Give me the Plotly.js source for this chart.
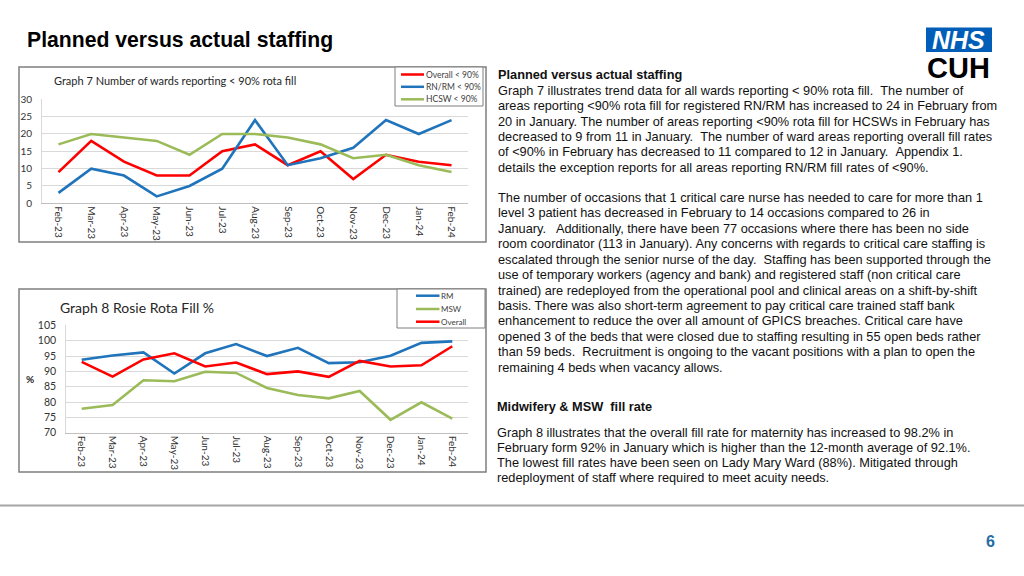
<!DOCTYPE html>
<html><head><meta charset="utf-8">
<script src="https://cdn.plot.ly/plotly-3.0.1.min.js"></script>
<style>html,body{margin:0;padding:0;background:#fff;overflow:hidden;} #chart{width:1024px;height:576px;}</style>
</head><body><div id="chart"></div>
<script>
// ---- data ----
const months = ['Feb-23','Mar-23','Apr-23','May-23','Jun-23','Jul-23','Aug-23','Sep-23','Oct-23','Nov-23','Dec-23','Jan-24','Feb-24'];
const overall7 = [9,18,12,8,8,15,17,11,15,7,14,12,11];
const rnrm7 = [3,10,8,2,5,10,24,11,13,16,24,20,24];
const hcsw7 = [17,20,19,18,14,20,20,19,17,13,14,11,9];
const rm8 = [93.8,95.2,96.2,89.3,95.9,98.9,95.0,97.7,92.7,93.0,95.1,99.3,99.8];
const msw8 = [77.8,79.0,87.1,86.8,89.9,89.5,84.6,82.3,81.2,83.6,74.2,79.9,74.6];
const overall8 = [93.1,88.3,93.9,95.9,91.6,92.9,89.1,90.0,88.2,93.4,91.6,92.0,98.2];
const yTicks7 = [0,5,10,15,20,25,30];
const yTicks8 = [70,75,80,85,90,95,100,105];
const legend7 = ['Overall &lt; 90%','RN/RM &lt; 90%','HCSW &lt; 90%'];
const legend8 = ['RM','MSW','Overall'];

const RED='#ff0000', BLUE='#1f74bb', GREEN='#9bbb59';

// ---- text ----
const para1 = [
 '<b>Planned versus actual staffing</b>',
 'Graph 7 illustrates trend data for all wards reporting &lt; 90% rota fill.  The number of',
 'areas reporting &lt;90% rota fill for registered RN/RM has increased to 24 in February from',
 '20 in January. The number of areas reporting &lt;90% rota fill for HCSWs in February has',
 'decreased to 9 from 11 in January.  The number of ward areas reporting overall fill rates',
 'of &lt;90% in February has decreased to 11 compared to 12 in January.  Appendix 1.',
 'details the exception reports for all areas reporting RN/RM fill rates of &lt;90%.'
];
const para2 = [
 'The number of occasions that 1 critical care nurse has needed to care for more than 1',
 'level 3 patient has decreased in February to 14 occasions compared to 26 in',
 'January.   Additionally, there have been 77 occasions where there has been no side',
 'room coordinator (113 in January). Any concerns with regards to critical care staffing is',
 'escalated through the senior nurse of the day.  Staffing has been supported through the',
 'use of temporary workers (agency and bank) and registered staff (non critical care',
 'trained) are redeployed from the operational pool and clinical areas on a shift-by-shift',
 'basis. There was also short-term agreement to pay critical care trained staff bank',
 'enhancement to reduce the over all amount of GPICS breaches. Critical care have',
 'opened 3 of the beds that were closed due to staffing resulting in 55 open beds rather',
 'than 59 beds.  Recruitment is ongoing to the vacant positions with a plan to open the',
 'remaining 4 beds when vacancy allows.'
];
const head3 = '<b>Midwifery &amp; MSW  fill rate</b>';
const para3 = [
 'Graph 8 illustrates that the overall fill rate for maternity has increased to 98.2% in',
 'February form 92% in January which is higher than the 12-month average of 92.1%.',
 'The lowest fill rates have been seen on Lady Mary Ward (88%). Mitigated through',
 'redeployment of staff where required to meet acuity needs.'
];

// ---- layout helpers ----
const W=1024,H=576;
const px = x => x/W, py = y => 1 - y/H;
const nb = s => s.replace(/  /g,' \u00a0');
const BODY = {family:'Liberation Sans, Arial, sans-serif', size:12.75, color:'#111'};
const CF = 'Lato, Calibri, sans-serif';

const annotations = [];
function txt(text,x,y,font,xanchor){
  annotations.push({xref:'paper',yref:'paper',x:px(x),y:py(y),text:nb(text),showarrow:false,
    xanchor:xanchor||'left',yanchor:'middle',align:'left',font:font,borderpad:0});
}
para1.forEach((t,i)=>txt(t,496.5,74.7+i*15.45,BODY));
para2.forEach((t,i)=>txt(t,496.5,197.3+i*15.45,BODY));
txt(head3,495.5,406.7,BODY);
para3.forEach((t,i)=>txt(t,495.5,432.7+i*15.0,BODY));

// slide title
txt('<b>Planned versus actual staffing</b>',26,40,{family:'Liberation Sans, Arial, sans-serif',size:21.2,color:'#000'});
// chart titles
txt('Graph 7 Number of wards reporting &lt; 90% rota fill',52.5,80.7,{family:CF,size:11,color:'#262626'});
txt('Graph 8 Rosie Rota Fill %',58.5,307,{family:CF,size:14,color:'#262626'});
txt('<b>%</b>',30,379,{family:CF,size:10,color:'#262626'},'center');
// page number
txt('<b>6</b>',990,541,{family:'Liberation Sans, Arial, sans-serif',size:16,color:'#1f6ea8'},'center');
// logo texts
txt('<b><i>NHS</i></b>',958.5,40,{family:'Liberation Sans, Arial, sans-serif',size:25,color:'#ffffff'},'center');
txt('<b>CUH</b>',958.5,68,{family:'Liberation Sans, Arial, sans-serif',size:29,color:'#000000'},'center');

const shapes = [
  {type:'rect',xref:'paper',yref:'paper',x0:px(19),x1:px(486),y0:py(67),y1:py(242),line:{color:'#7f7f7f',width:1.5},layer:'below'},
  {type:'rect',xref:'paper',yref:'paper',x0:px(19),x1:px(486),y0:py(289),y1:py(472),line:{color:'#7f7f7f',width:1.5},layer:'below'},
  {type:'line',xref:'paper',yref:'paper',x0:0,x1:1,y0:py(505.5),y1:py(505.5),line:{color:'#a6a6a6',width:2}},
  {type:'rect',xref:'paper',yref:'paper',x0:px(926),x1:px(992),y0:py(27.5),y1:py(52),fillcolor:'#005eb8',line:{width:0},layer:'below'},
  {type:'rect',xref:'paper',yref:'paper',x0:px(395),x1:px(483),y0:py(67),y1:py(106),fillcolor:'#ffffff',line:{color:'#7f7f7f',width:1},layer:'above'},
  {type:'rect',xref:'paper',yref:'paper',x0:px(397),x1:px(485),y0:py(289),y1:py(328),fillcolor:'#ffffff',line:{color:'#7f7f7f',width:1},layer:'above'}
];
const cols7=[RED,BLUE,GREEN], ly7=[74.5,86.8,99.3];
legend7.forEach((t,i)=>{
  shapes.push({type:'line',xref:'paper',yref:'paper',x0:px(401),x1:px(424),y0:py(ly7[i]),y1:py(ly7[i]),line:{color:cols7[i],width:2.5},layer:'above'});
  txt(t,425,ly7[i],{family:CF,size:8.5,color:'#404040'});
});
const cols8=[BLUE,GREEN,RED], ly8=[295.7,309,321.7];
legend8.forEach((t,i)=>{
  shapes.push({type:'line',xref:'paper',yref:'paper',x0:px(416),x1:px(439.5),y0:py(ly8[i]),y1:py(ly8[i]),line:{color:cols8[i],width:2.5},layer:'above'});
  txt(t,440,ly8[i],{family:CF,size:8,color:'#404040'});
});

const traces = [
  {x:months,y:overall7,name:'Overall < 90%',type:'scatter',mode:'lines',line:{color:RED,width:2.6},xaxis:'x',yaxis:'y'},
  {x:months,y:rnrm7,name:'RN/RM < 90%',type:'scatter',mode:'lines',line:{color:BLUE,width:2.6},xaxis:'x',yaxis:'y'},
  {x:months,y:hcsw7,name:'HCSW < 90%',type:'scatter',mode:'lines',line:{color:GREEN,width:2.6},xaxis:'x',yaxis:'y'},
  {x:months,y:rm8,name:'RM',type:'scatter',mode:'lines',line:{color:BLUE,width:2.6},xaxis:'x2',yaxis:'y2'},
  {x:months,y:msw8,name:'MSW',type:'scatter',mode:'lines',line:{color:GREEN,width:2.6},xaxis:'x2',yaxis:'y2'},
  {x:months,y:overall8,name:'Overall',type:'scatter',mode:'lines',line:{color:RED,width:2.6},xaxis:'x2',yaxis:'y2'}
];

const xcommon = {type:'category',range:[-0.5,12.5],tickangle:90,ticks:'',showgrid:false,zeroline:false,
  showline:true,linecolor:'#bfbfbf',linewidth:1,tickfont:{family:CF,size:10,color:'#333'},fixedrange:true};
const ycommon = {ticks:'',showgrid:true,gridcolor:'#d9d9d9',gridwidth:1,zeroline:false,showline:true,linecolor:'#d9d9d9',
  tickfont:{family:CF,size:10,color:'#333'},fixedrange:true,ticklabelstandoff:7};

const layout = {
  width:W,height:H,margin:{l:0,r:0,t:0,b:0},paper_bgcolor:'#ffffff',plot_bgcolor:'rgba(0,0,0,0)',
  showlegend:false,
  xaxis:Object.assign({},xcommon,{domain:[px(42.1),px(467.9)],anchor:'y'}),
  yaxis:Object.assign({},ycommon,{domain:[py(203.3),py(99.3)],range:[0,30],tickvals:yTicks7,anchor:'x'}),
  xaxis2:Object.assign({},xcommon,{domain:[px(66.25),px(467.75)],anchor:'y2'}),
  yaxis2:Object.assign({},ycommon,{domain:[py(432.7),py(325.4)],range:[70,105],tickvals:yTicks8,anchor:'x2',tickfont:{family:CF,size:10.5,color:'#333'}}),
  shapes:shapes,annotations:annotations
};
Plotly.newPlot('chart',traces,layout,{staticPlot:true,displayModeBar:false});
</script></body></html>
